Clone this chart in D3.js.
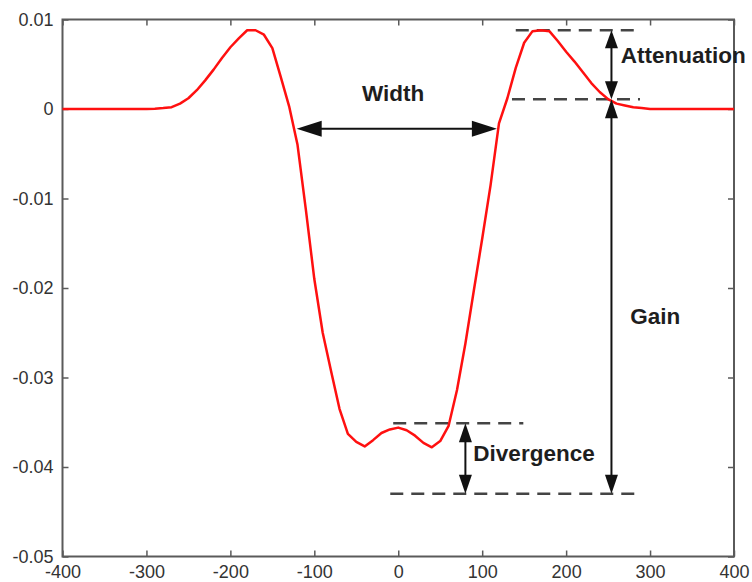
<!DOCTYPE html>
<html>
<head>
<meta charset="utf-8">
<script src="https://cdn.jsdelivr.net/npm/d3@7"></script>
<style>
  html, body { margin: 0; padding: 0; background: #fff; }
  svg { display: block; font-family: "Liberation Sans", Arial, sans-serif; }
</style>
</head>
<body>
<svg id="chart" width="752" height="582"></svg>
<script>
// Response profile sampled every 10 units
const positions = [
  -400, -390, -380, -370, -360, -350, -340, -330, -320, -310,
  -300, -290, -280, -270, -260, -250, -240, -230, -220, -210,
  -200, -190, -180, -170, -160, -150, -140, -130, -120, -110,
  -100, -90, -80, -70, -60, -50, -40, -30, -20, -10,
  0, 10, 20, 30, 40, 50, 60, 70, 80, 90,
  100, 110, 120, 130, 140, 150, 160, 170, 180, 190,
  200, 210, 220, 230, 240, 250, 260, 270, 280, 290,
  300, 310, 320, 330, 340, 350, 360, 370, 380, 390, 400
];
const response = [
  0, 0, 0, 0, 0, 0, 0, 0, 0, 0,
  0, 0.00003, 0.0001, 0.0002, 0.0006, 0.0012, 0.0021, 0.0032, 0.0044, 0.0057,
  0.0069, 0.0079, 0.0088, 0.0088, 0.0083, 0.0068, 0.0036, 0.0003, -0.0040, -0.0113,
  -0.0190, -0.0250, -0.0293, -0.0335, -0.0363, -0.0372, -0.0377, -0.0370, -0.0362, -0.0358,
  -0.0356, -0.0359, -0.0365, -0.0373, -0.0378, -0.0371, -0.0354, -0.0314, -0.0262, -0.0203,
  -0.0145, -0.0085, -0.0016, 0.0012, 0.0046, 0.0074, 0.0087, 0.0088, 0.0087, 0.0076,
  0.0064, 0.0053, 0.0041, 0.0029, 0.0019, 0.0011, 0.0006, 0.0004, 0.0002, 0.0001,
  0, 0, 0, 0, 0, 0, 0, 0, 0, 0, 0
];

const xTicks = [-400, -300, -200, -100, 0, 100, 200, 300, 400];
const xTickLabels = ["-400", "-300", "-200", "-100", "0", "100", "200", "300", "400"];
const yTicks = [0.01, 0, -0.01, -0.02, -0.03, -0.04, -0.05];
const yTickLabels = ["0.01", "0", "-0.01", "-0.02", "-0.03", "-0.04", "-0.05"];

// Annotation levels (data units)
const peakLevel = 0.0088;
const tailLevel = 0.0011;
const dipLevel = -0.0351;
const floorLevel = -0.0430;
const widthLevel = -0.0022;
const widthSpan = [-121, 117.5];
const gainAt = 254;
const divergenceAt = 80;

const svg = d3.select("#chart");
const plotLeft = 62.5, plotRight = 734, plotTop = 19.5, plotBottom = 556.5;

const x = d3.scaleLinear().domain([-400, 400]).range([plotLeft, plotRight]);
const y = d3.scaleLinear().domain([-0.05, 0.01]).range([plotBottom, plotTop]);

svg.append("rect").attr("width", 752).attr("height", 582).attr("fill", "#fff");

const axisColor = "#5a5a5a";
const labelColor = "#333";

function styleAxis(g) {
  g.select(".domain").remove();
  g.selectAll(".tick line").attr("stroke", axisColor).attr("stroke-width", 1.5);
  g.selectAll(".tick text").attr("fill", labelColor).attr("font-size", 18)
    .attr("font-family", "'Liberation Sans', Arial, sans-serif");
}

// Bottom axis with inward ticks
svg.append("g")
  .attr("transform", `translate(0,${plotBottom})`)
  .call(d3.axisBottom(x).tickValues(xTicks).tickSize(-6).tickPadding(9)
    .tickFormat((d, i) => xTickLabels[i]))
  .call(styleAxis);

// Top mirror ticks
svg.append("g")
  .attr("transform", `translate(0,${plotTop})`)
  .call(d3.axisTop(x).tickValues(xTicks).tickSize(-6).tickFormat(""))
  .call(styleAxis);

// Left axis with inward ticks
svg.append("g")
  .attr("transform", `translate(${plotLeft},0)`)
  .call(d3.axisLeft(y).tickValues(yTicks).tickSize(-6).tickPadding(9)
    .tickFormat((d, i) => yTickLabels[i]))
  .call(styleAxis);

// Right mirror ticks
svg.append("g")
  .attr("transform", `translate(${plotRight},0)`)
  .call(d3.axisRight(y).tickValues(yTicks).tickSize(-6).tickFormat(""))
  .call(styleAxis);

// Frame
svg.append("rect")
  .attr("x", plotLeft).attr("y", plotTop)
  .attr("width", plotRight - plotLeft).attr("height", plotBottom - plotTop)
  .attr("fill", "none").attr("stroke", axisColor).attr("stroke-width", 2);

// Reference dashed lines
const dashColor = "#444";
const dashes = [
  { y: peakLevel, x0: 140, x1: 285 },
  { y: tailLevel, x0: 135.5, x1: 288 },
  { y: dipLevel, x0: -6, x1: 149 },
  { y: floorLevel, x0: -9.5, x1: 285 }
];
svg.append("g").selectAll("line").data(dashes).join("line")
  .attr("x1", d => x(d.x0)).attr("x2", d => x(d.x1))
  .attr("y1", d => y(d.y)).attr("y2", d => y(d.y))
  .attr("stroke", dashColor).attr("stroke-width", 2.5)
  .attr("stroke-dasharray", "13,8");

// Curve
const line = d3.line()
  .x((d, i) => x(positions[i]))
  .y(d => y(d));
svg.append("path")
  .datum(response)
  .attr("d", line)
  .attr("fill", "none")
  .attr("stroke", "#ff1010")
  .attr("stroke-width", 2.5)
  .attr("stroke-linejoin", "round");

// Double-headed arrows
const arrowColor = "#111";
function arrow(x1, y1, x2, y2, headLen, headWidth) {
  const g = svg.append("g");
  const dx = x2 - x1, dy = y2 - y1;
  const len = Math.hypot(dx, dy);
  const ux = dx / len, uy = dy / len;
  const px = -uy, py = ux;
  g.append("line")
    .attr("x1", x1 + ux * headLen * 0.5).attr("y1", y1 + uy * headLen * 0.5)
    .attr("x2", x2 - ux * headLen * 0.5).attr("y2", y2 - uy * headLen * 0.5)
    .attr("stroke", arrowColor).attr("stroke-width", 2);
  const head = (tx, ty, sx, sy) => {
    const bx = tx + sx * headLen, by = ty + sy * headLen;
    return [[tx, ty],
      [bx + px * headWidth / 2, by + py * headWidth / 2],
      [bx - px * headWidth / 2, by - py * headWidth / 2]];
  };
  g.selectAll("polygon")
    .data([head(x1, y1, ux, uy), head(x2, y2, -ux, -uy)])
    .join("polygon")
    .attr("points", d => d.map(p => p.join(",")).join(" "))
    .attr("fill", arrowColor);
}

arrow(x(widthSpan[0]), y(widthLevel), x(widthSpan[1]), y(widthLevel), 25, 16);
arrow(x(gainAt), y(peakLevel), x(gainAt), y(tailLevel), 18, 13);
arrow(x(gainAt), y(tailLevel), x(gainAt), y(floorLevel), 19, 13);
arrow(x(divergenceAt), y(dipLevel), x(divergenceAt), y(floorLevel), 19, 13);

// Labels
const labels = [
  { text: "Width", x: -6, y: 0.00084, anchor: "middle" },
  { text: "Attenuation", x: 265, y: 0.00514, anchor: "start" },
  { text: "Gain", x: 276.5, y: -0.02402, anchor: "start" },
  { text: "Divergence", x: 89.5, y: -0.03933, anchor: "start" }
];
svg.append("g").selectAll("text").data(labels).join("text")
  .attr("x", d => x(d.x)).attr("y", d => y(d.y))
  .attr("text-anchor", d => d.anchor)
  .attr("font-size", 22.5).attr("font-weight", "bold")
  .attr("fill", "#1e1e1e")
  .text(d => d.text);
</script>
</body>
</html>
